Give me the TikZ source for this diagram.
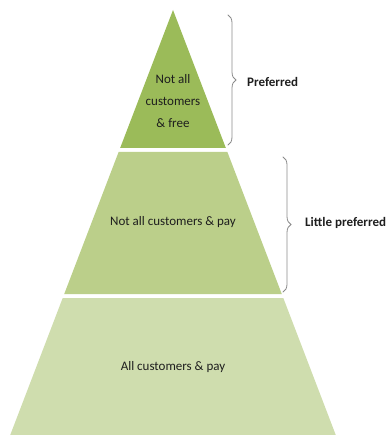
\documentclass[tikz,border=0pt]{standalone}
\usepackage{fontspec}
\setmainfont{Carlito}
\usetikzlibrary{decorations.pathreplacing}

\definecolor{topgreen}{HTML}{9BBB59}
\definecolor{midgreen}{HTML}{BBCF8A}
\definecolor{lowgreen}{HTML}{CFDDAE}
\definecolor{bracegray}{HTML}{8A8A8A}
\definecolor{inkgray}{HTML}{1E1E1E}

\tikzset{
  layertext/.style={text=inkgray,font=\fontsize{13}{22}\selectfont,align=center,inner sep=0pt},
  bracetext/.style={text=inkgray,font=\fontsize{13}{16}\selectfont\bfseries,anchor=west,inner sep=0pt},
  curly/.style={draw=bracegray,line width=0.8pt,line cap=round,decorate,
    decoration={brace,amplitude=8pt}}
}

\begin{document}
\begin{tikzpicture}[x=1pt,y=-1pt]
\useasboundingbox (0,0) rectangle (387,435);
\clip (0,0) rectangle (387,435);

\def\ax{173}
\def\ay{10}
\def\s{0.383}

% pyramid layers
\fill[color=topgreen] (\ax,\ay)--({\ax-\s*(148-\ay)},148)--({\ax+\s*(148-\ay)},148)--cycle;
\fill[color=midgreen] ({\ax-\s*(152-\ay)},152)--({\ax+\s*(152-\ay)},152)--
	({\ax+\s*(294-\ay)},294)--({\ax-\s*(294-\ay)},294)--cycle;
\fill[color=lowgreen] ({\ax-\s*(298-\ay)},298)--({\ax+\s*(298-\ay)},298)--
	({\ax+\s*(435-\ay)},435)--({\ax-\s*(435-\ay)},435)--cycle;

\node[layertext] (free) at (\ax,101) {Not all\\customers\\\& free};
\node[layertext] (notall) at (\ax,222) {Not all customers \& pay};
\node[layertext] (all) at (\ax,367) {All customers \& pay};

% braces
\coordinate (prefTop) at (228,15);
\coordinate (prefBot) at (228,145);
\draw[curly] (prefTop)--(prefBot);
\node[bracetext] (pref) at (247,82) {Preferred};

\coordinate (littleTop) at (283,157);
\coordinate (littleBot) at (283,292);
\draw[curly] (littleTop)--(littleBot);
\node[bracetext] (little) at (305,223) {Little preferred};

\end{tikzpicture}
\end{document}
